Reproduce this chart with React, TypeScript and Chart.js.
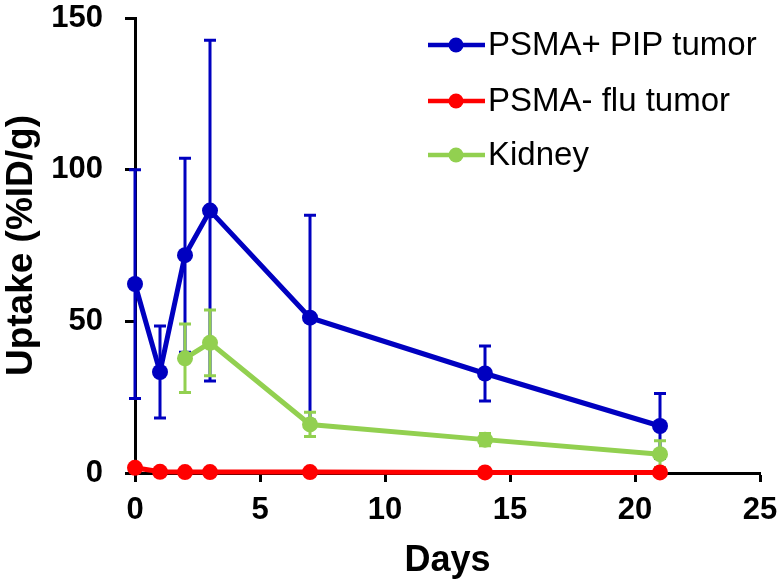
import React, { useEffect, useRef } from "react";
import { Chart, registerables } from "chart.js";

Chart.register(...registerables);

const days = [0, 1, 2, 3, 7, 14, 21];
const kidneyDays = [2, 3, 7, 14, 21];

const pipTumor = [62.3, 33.3, 71.8, 86.5, 51.2, 32.8, 15.5];
const pipTumorSd = [37.7, 15.2, 32.0, 56.2, 33.8, 9.1, 10.7];

const fluTumor = [1.7, 0.4, 0.3, 0.3, 0.3, 0.2, 0.2];

const kidney = [37.8, 42.9, 16.0, 11.0, 6.2];
const kidneySd = [11.3, 10.8, 4.0, 2.0, 4.4];

const seriesNames = ["PSMA+ PIP tumor", "PSMA- flu tumor", "Kidney"];
const seriesColors = ["#0000C0", "#FF0000", "#92D050"];

const xTicks = [0, 5, 10, 15, 20, 25];
const yTicks = [0, 50, 100, 150];

const FONT = "'Liberation Sans', Arial, sans-serif";

const errorBarPlugin = {
  id: "errorBars",
  afterDatasetDraw(chart: any, args: any) {
    const ds = chart.data.datasets[args.index];
    const sds: number[] | undefined = ds.sd;
    if (!sds) return;
    const ctx = chart.ctx;
    const xs = chart.scales.x;
    const ys = chart.scales.y;
    ctx.save();
    ctx.strokeStyle = ds.borderColor;
    ctx.lineWidth = 3;
    ds.data.forEach((p: any, i: number) => {
      const sd = sds[i];
      if (!sd) return;
      const px = xs.getPixelForValue(p.x);
      const top = ys.getPixelForValue(p.y + sd);
      const bot = ys.getPixelForValue(p.y - sd);
      ctx.beginPath();
      ctx.moveTo(px, top);
      ctx.lineTo(px, bot);
      ctx.moveTo(px - 6, top);
      ctx.lineTo(px + 6, top);
      ctx.moveTo(px - 6, bot);
      ctx.lineTo(px + 6, bot);
      ctx.stroke();
    });
    ctx.restore();
  },
};

const legendPlugin = {
  id: "customLegend",
  afterDraw(chart: any) {
    const ctx = chart.ctx;
    ctx.save();
    const rows = [45, 101, 155];
    seriesNames.forEach((name, i) => {
      const y = rows[i];
      ctx.strokeStyle = seriesColors[i];
      ctx.lineWidth = 4.5;
      ctx.beginPath();
      ctx.moveTo(428, y);
      ctx.lineTo(485, y);
      ctx.stroke();
      ctx.fillStyle = seriesColors[i];
      ctx.beginPath();
      ctx.arc(456, y, 7.5, 0, Math.PI * 2);
      ctx.fill();
      ctx.fillStyle = "#000";
      ctx.font = `33px ${FONT}`;
      ctx.textAlign = "left";
      ctx.textBaseline = "middle";
      ctx.fillText(name, 488, y + 1);
    });
    ctx.restore();
  },
};

export default function App() {
  const ref = useRef<HTMLCanvasElement | null>(null);
  useEffect(() => {
    if (!ref.current) return;
    const mk = (xsArr: number[], ysArr: number[]) => xsArr.map((x, i) => ({ x, y: ysArr[i] }));
    const common = {
      borderWidth: 5,
      pointRadius: 8,
      pointBorderWidth: 0,
      clip: false,
    };
    const chart = new Chart(ref.current, {
      type: "line",
      data: {
        datasets: [
          {
            ...common,
            label: seriesNames[0],
            data: mk(days, pipTumor),
            sd: pipTumorSd,
            borderColor: seriesColors[0],
            backgroundColor: seriesColors[0],
            order: 3,
          } as any,
          {
            ...common,
            label: seriesNames[1],
            data: mk(days, fluTumor),
            borderColor: seriesColors[1],
            backgroundColor: seriesColors[1],
            order: 1,
          } as any,
          {
            ...common,
            label: seriesNames[2],
            data: mk(kidneyDays, kidney),
            sd: kidneySd,
            borderColor: seriesColors[2],
            backgroundColor: seriesColors[2],
            order: 2,
          } as any,
        ],
      },
      options: {
        animation: false,
        responsive: false,
        maintainAspectRatio: false,
        layout: { padding: 0 },
        plugins: { legend: { display: false }, tooltip: { enabled: false } },
        scales: {
          x: {
            type: "linear",
            min: 0,
            max: 25,
            afterBuildTicks: (s: any) => {
              s.ticks = xTicks.map((v) => ({ value: v }));
            },
            afterFit: (s: any) => {
              s.height = 113;
              s.paddingLeft = 0;
              s.paddingRight = 22;
            },
            ticks: {
              color: "#000",
              font: { family: FONT, size: 31, weight: "bold" },
              padding: 10,
              maxRotation: 0,
              autoSkip: false,
            },
            grid: {
              drawOnChartArea: false,
              drawTicks: true,
              tickLength: 9,
              tickWidth: 3,
              tickColor: "#000",
            },
            border: { color: "#000", width: 3 },
            title: {
              display: true,
              text: "Days",
              color: "#000",
              font: { family: FONT, size: 36, weight: "bold" },
              padding: { top: 0, bottom: 3 },
            },
          },
          y: {
            type: "linear",
            min: 0,
            max: 150,
            afterBuildTicks: (s: any) => {
              s.ticks = yTicks.map((v) => ({ value: v }));
            },
            afterFit: (s: any) => {
              s.width = 135;
              s.paddingTop = 18;
              s.paddingBottom = 0;
            },
            ticks: {
              color: "#000",
              font: { family: FONT, size: 31, weight: "bold" },
              padding: 22,
              autoSkip: false,
            },
            grid: {
              drawOnChartArea: false,
              drawTicks: true,
              tickLength: 10,
              tickWidth: 3,
              tickColor: "#000",
            },
            border: { color: "#000", width: 3 },
            title: {
              display: true,
              text: "Uptake (%ID/g)",
              color: "#000",
              font: { family: FONT, size: 37, weight: "bold" },
              padding: { top: 0, bottom: 0 },
            },
          },
        },
      },
      plugins: [errorBarPlugin, legendPlugin],
    });
    return () => chart.destroy();
  }, []);
  return (
    <div style={{ position: "fixed", left: 0, top: 0, width: 782, height: 586, background: "#fff" }}>
      <canvas ref={ref} width={782} height={586} style={{ width: 782, height: 586 }} />
    </div>
  );
}
